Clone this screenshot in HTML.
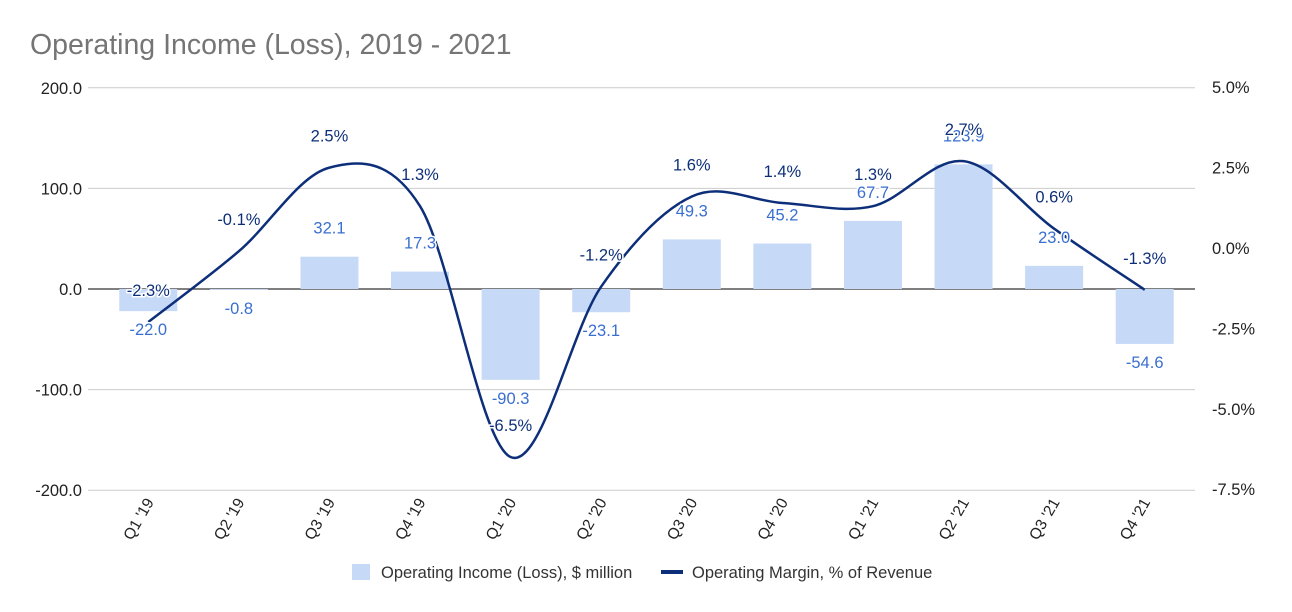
<!DOCTYPE html>
<html><head><meta charset="utf-8"><style>
body{margin:0;background:#fff;}
svg{display:block;font-family:"Liberation Sans",Arial,sans-serif;}
.halo{paint-order:stroke;stroke:#fff;stroke-width:3px;stroke-linejoin:round;}
</style></head><body>
<svg id="chart" width="1292" height="612" viewBox="0 0 1292 612">
<text x="30" y="54" font-size="28.5" fill="#757575">Operating Income (Loss), 2019 - 2021</text>
<g id="grid"></g><g id="bars"></g><g id="line"></g><g id="labels"></g><g id="axes"></g>
<g>
<rect x="352" y="564" width="18" height="16" fill="#c6d9f7"/>
<text x="381" y="578" font-size="16.5" fill="#333">Operating Income (Loss), $ million</text>
<rect x="661" y="570" width="22" height="4" fill="#0d2f7a"/>
<text x="692" y="578" font-size="16.5" fill="#333">Operating Margin, % of Revenue</text>
</g>
</svg>
<script>
const categories=["Q1 '19","Q2 '19","Q3 '19","Q4 '19","Q1 '20","Q2 '20","Q3 '20","Q4 '20","Q1 '21","Q2 '21","Q3 '21","Q4 '21"];
const incomeValues=[-22.0,-0.8,32.1,17.3,-90.3,-23.1,49.3,45.2,67.7,123.9,23.0,-54.6];
const marginValues=[-2.3,-0.1,2.5,1.3,-6.5,-1.2,1.6,1.4,1.3,2.7,0.6,-1.3];
const leftTicks=[200,100,0,-100,-200];
const rightTicks=[5.0,2.5,0.0,-2.5,-5.0,-7.5];
const NS="http://www.w3.org/2000/svg";
const X0=88,X1=1195,B0=103,B1=1190;
const yL=v=>289-v*1.006;
const yR=v=>248-v*32.16;
const step=(B1-B0)/categories.length;
const xC=i=>B0+step*(i+0.5);
function mk(tag,attrs,parent,txt){const e=document.createElementNS(NS,tag);for(const k in attrs)e.setAttribute(k,attrs[k]);if(txt!==undefined)e.textContent=txt;document.getElementById(parent).appendChild(e);return e;}
leftTicks.forEach(t=>{
 const g=mk('line',{x1:X0,x2:X1,y1:yL(t),y2:yL(t),stroke:t===0?'#333':'#ccc','stroke-width':t===0?1.3:1},'grid');
 
 
 const l=mk('text',{x:82,y:yL(t)+6,'font-size':16.5,'text-anchor':'end',fill:'#222'},'axes',t.toFixed(1));
 
 
});
rightTicks.forEach(t=>{
 const l=mk('text',{x:1212,y:yR(t)+6,'font-size':16.5,fill:'#222'},'axes',t.toFixed(1)+'%');
 
 
});
categories.forEach((c,i)=>{
 const x=xC(i),y=492;
 const l=mk('text',{x:x+6,y:y+10,'font-size':15.5,'text-anchor':'end',fill:'#222',transform:`rotate(-60 ${x+6} ${y+10})`},'axes',c);
 
 
});
incomeValues.forEach((v,i)=>{
 const y=yL(v),z=yL(0),w=58;
 const r=mk('rect',{x:xC(i)-w/2,y:Math.min(y,z),width:w,height:Math.abs(y-z),fill:'#c6d9f7'},'bars');
 
 
 const ly=v>=0?y-23:y+24;
 const t=mk('text',{x:xC(i),y:ly,'font-size':16.5,'text-anchor':'middle',fill:'#3a6fd0',class:'halo'},'labels',v.toFixed(1));
 
 
});
const pts=marginValues.map((v,i)=>[xC(i),yR(v)]);
let d=`M${pts[0][0]},${pts[0][1]}`;
for(let i=0;i<pts.length-1;i++){
 const p0=pts[Math.max(0,i-1)],p1=pts[i],p2=pts[i+1],p3=pts[Math.min(pts.length-1,i+2)];
 const c1=[p1[0]+(p2[0]-p0[0])/6,p1[1]+(p2[1]-p0[1])/6];
 const c2=[p2[0]-(p3[0]-p1[0])/6,p2[1]-(p3[1]-p1[1])/6];
 d+=` C${c1[0]},${c1[1]} ${c2[0]},${c2[1]} ${p2[0]},${p2[1]}`;
}
const path=mk('path',{d:d,fill:'none',stroke:'#0d2f7a','stroke-width':2.5},'line');


marginValues.forEach((v,i)=>{
 const t=mk('text',{x:xC(i),y:yR(v)-26,'font-size':16.5,'text-anchor':'middle',fill:'#0d2f7a',class:'halo'},'labels',v.toFixed(1)+'%');
 
 
});
</script>
</body></html>
